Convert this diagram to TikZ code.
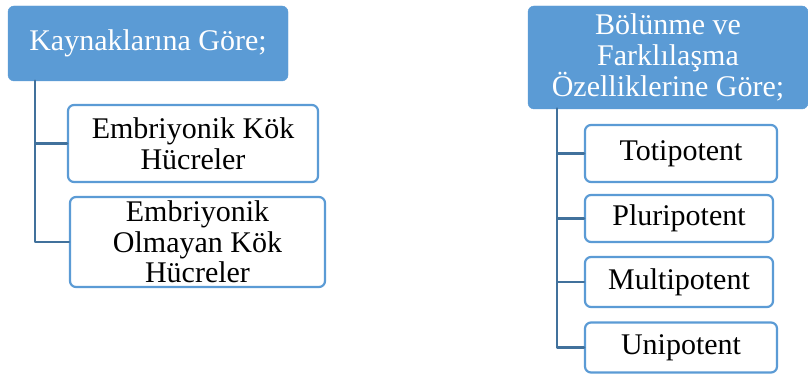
\documentclass[tikz,border=0pt]{standalone}
\usepackage{fontspec}
\setmainfont{Liberation Serif}
\usetikzlibrary{positioning}
\definecolor{hdrblue}{HTML}{5B9BD5}
\definecolor{linkblue}{HTML}{41719C}
\tikzset{
    header/.style={rectangle, rounded corners=6pt, fill=hdrblue, draw=hdrblue, text=white, align=center, inner sep=0pt},
    item/.style={rectangle, rounded corners=6pt, fill=white, draw=hdrblue, line width=2.2pt, text=black, align=center, inner sep=0pt},
    conn/.style={draw=linkblue, line width=2.8pt}
}

\begin{document}
\begin{tikzpicture}[line cap=round,line join=round,x=1pt,y=-1pt,
    font=\fontsize{30}{30.5}\selectfont]
    \useasboundingbox (0,0) rectangle (808,374);

    % sources
    \node[header, minimum width=280pt, minimum height=75pt] (kaynak) at (148,43.5) {Kaynaklarına Göre;};
    \node[item, minimum width=250pt, minimum height=77pt] (emb) at (193,143.5) {Embriyonik Kök\\Hücreler};
    \node[item, minimum width=255pt, minimum height=90pt] (nonemb) at (197.5,242) {Embriyonik\\Olmayan Kök\\Hücreler};

    % potency
    \node[header, minimum width=280pt, minimum height=103pt] (bolunme) at (668,57.5) {Bölünme ve\\Farklılaşma\\Özelliklerine Göre;};
    \node[item, minimum width=192pt, minimum height=57pt] (toti) at (681,153.5) {Totipotent};
    \node[item, minimum width=188pt, minimum height=47pt] (pluri) at (679,218.5) {Pluripotent};
    \node[item, minimum width=188pt, minimum height=50pt] (multi) at (679,282) {Multipotent};
    \node[item, minimum width=192pt, minimum height=50pt] (uni) at (681,347.5) {Unipotent};

    % Edges
    \coordinate (ktrunk) at (35,81);
    \coordinate (btrunk) at (557,109);
    \foreach \target in {emb, nonemb} {
        \draw[conn] (ktrunk) |- (\target.west);
    }
    \foreach \target in {toti, pluri, multi, uni} {
        \draw[conn] (btrunk) |- (\target.west);
    }
\end{tikzpicture}
\end{document}
